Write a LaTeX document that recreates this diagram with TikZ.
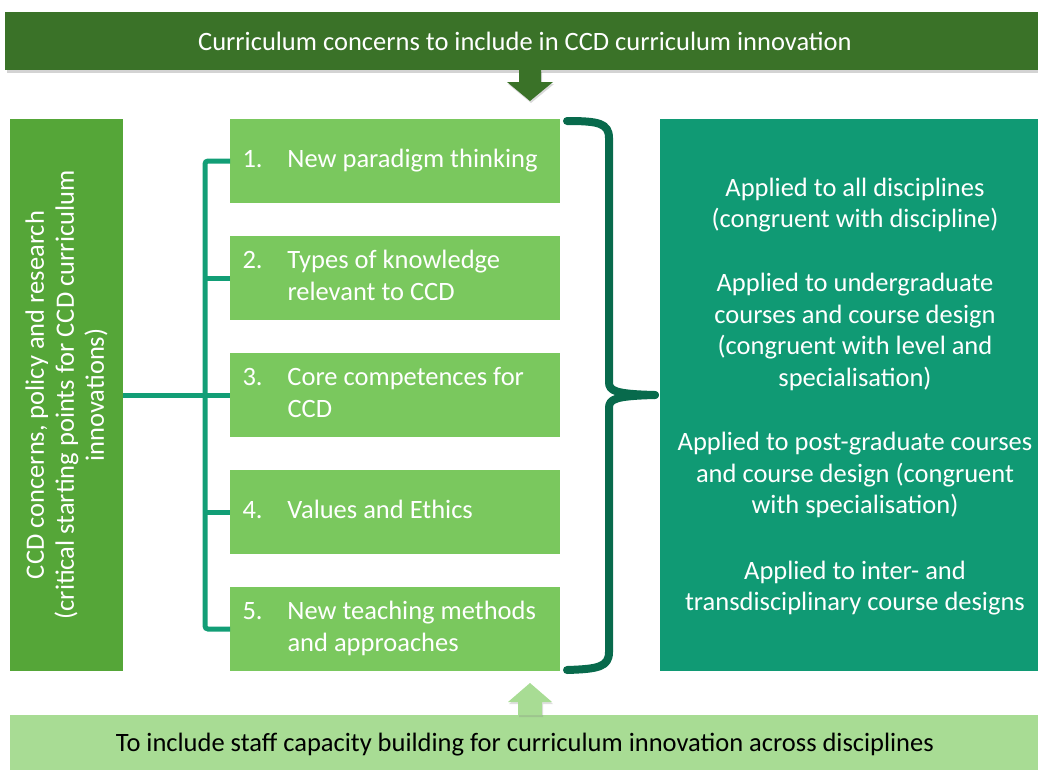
\documentclass[tikz,border=0pt]{standalone}
\usepackage{fontspec}
\setmainfont{Carlito}
\usetikzlibrary{shadows}
\definecolor{topgreen}{HTML}{3A7228}
\definecolor{leftgreen}{HTML}{55A638}
\definecolor{itemgreen}{HTML}{7AC85E}
\definecolor{rightgreen}{HTML}{109A74}
\definecolor{bracegreen}{HTML}{086A4C}
\definecolor{conngreen}{HTML}{129E76}
\definecolor{botgreen}{HTML}{A8DC94}
\newcommand{\itemtxt}[2]{\raisebox{-3pt}{\begin{tabular}{@{}p{45pt}@{}p{260pt}@{}}#1&#2\end{tabular}}}
\tikzset{
  box/.style={rectangle, inner sep=0pt, outer sep=0pt, text=white},
  itembox/.style={box, fill=itemgreen, minimum width=330pt, minimum height=84pt,
    font=\fontsize{26.5}{32.5}\selectfont},
  conn/.style={draw=conngreen, line width=5pt, rounded corners=3pt},
  bracestyle/.style={draw=bracegreen, line width=8pt, line cap=round, line join=round},
  txt/.style={font=\fontsize{26.5}{31.5}\selectfont, align=center, text=white}
}
\begin{document}
\begin{tikzpicture}[x=1pt,y=-1pt]
\useasboundingbox (0,0) rectangle (1038,769);
% top banner
\node[box, fill=topgreen, minimum width=1040pt, minimum height=58pt,
  drop shadow={shadow xshift=2pt, shadow yshift=-3pt, opacity=0.35},
  font=\fontsize{26.5}{30}\selectfont] (top) at (525,41)
  {Curriculum concerns to include in CCD curriculum innovation};
% down arrow
\coordinate (da) at (530,70);
\fill[topgreen, drop shadow={shadow xshift=1pt, shadow yshift=-2pt, opacity=0.3}]
  ([xshift=-11pt]da) -- ([xshift=-11pt,yshift=-12pt]da) -- ([xshift=-23pt,yshift=-12pt]da)
  -- ([yshift=-31pt]da) -- ([xshift=23pt,yshift=-12pt]da) -- ([xshift=11pt,yshift=-12pt]da)
  -- ([xshift=11pt]da) -- cycle;
% left box
\node[box, fill=leftgreen, minimum width=113pt, minimum height=552pt] (left) at (66.5,395) {};
\node[txt, rotate=90, font=\fontsize{26.5}{30}\selectfont] (lefttxt) at (left.center)
  {CCD concerns, policy and research\\(critical starting points for CCD curriculum\\innovations)};
% items
\node[itembox] (b1) at (395,161) {\itemtxt{1.}{New paradigm thinking}};
\node[itembox] (b2) at (395,278) {\itemtxt{2.}{Types of knowledge\newline relevant to CCD}};
\node[itembox] (b3) at (395,395) {\itemtxt{3.}{Core competences for\newline CCD}};
\node[itembox] (b4) at (395,512) {\itemtxt{4.}{Values and Ethics}};
\node[itembox] (b5) at (395,629) {\itemtxt{5.}{New teaching methods\newline and approaches}};
% connectors
\coordinate (sp) at (205,395);
\draw[conn] (b1.west) -- (b1.west -| sp) -- (b5.west -| sp) -- (b5.west);
\draw[conn] (b2.west -| sp) -- (b2.west);
\draw[conn] (b4.west -| sp) -- (b4.west);
\draw[conn] (left.east |- b3.west) -- (b3.west);
% brace
\coordinate (bt) at (567,121);
\coordinate (bm) at (655,395);
\coordinate (bb) at (567,670);
\draw[bracestyle] (bt) .. controls (598,121) and (609,123) .. (609,138) -- (609,382)
  .. controls (609,391) and (615,394) .. (bm);
\draw[bracestyle] (bm) .. controls (615,396) and (609,399) .. (609,408) -- (609,652)
  .. controls (609,667) and (598,669) .. (bb);
% right box
\node[box, fill=rightgreen, minimum width=380pt, minimum height=552pt] (right) at (850,395) {};
\node[txt] (r1) at (855,205) {Applied to all disciplines\\(congruent with discipline)};
\node[txt] (r2) at (855,332) {Applied to undergraduate\\courses and course design\\(congruent with level and\\specialisation)};
\node[txt] (r3) at (855,475) {Applied to post-graduate courses\\and course design (congruent\\with specialisation)};
\node[txt] (r4) at (855,588) {Applied to inter- and\\transdisciplinary course designs};
% bottom banner
\node[box, fill=botgreen, minimum width=1030pt, minimum height=60pt, text=black,
  font=\fontsize{26.5}{30}\selectfont] (bot) at (525,745)
  {To include staff capacity building for curriculum innovation across disciplines};
% up arrow
\coordinate (ua) at (530,715);
\fill[botgreen, drop shadow={shadow xshift=1pt, shadow yshift=-2pt, opacity=0.25}]
  ([xshift=-12pt]ua) -- ([xshift=-12pt,yshift=13pt]ua) -- ([xshift=-22pt,yshift=13pt]ua)
  -- ([yshift=32pt]ua) -- ([xshift=22pt,yshift=13pt]ua) -- ([xshift=12pt,yshift=13pt]ua)
  -- ([xshift=12pt]ua) -- cycle;
\end{tikzpicture}
\end{document}
